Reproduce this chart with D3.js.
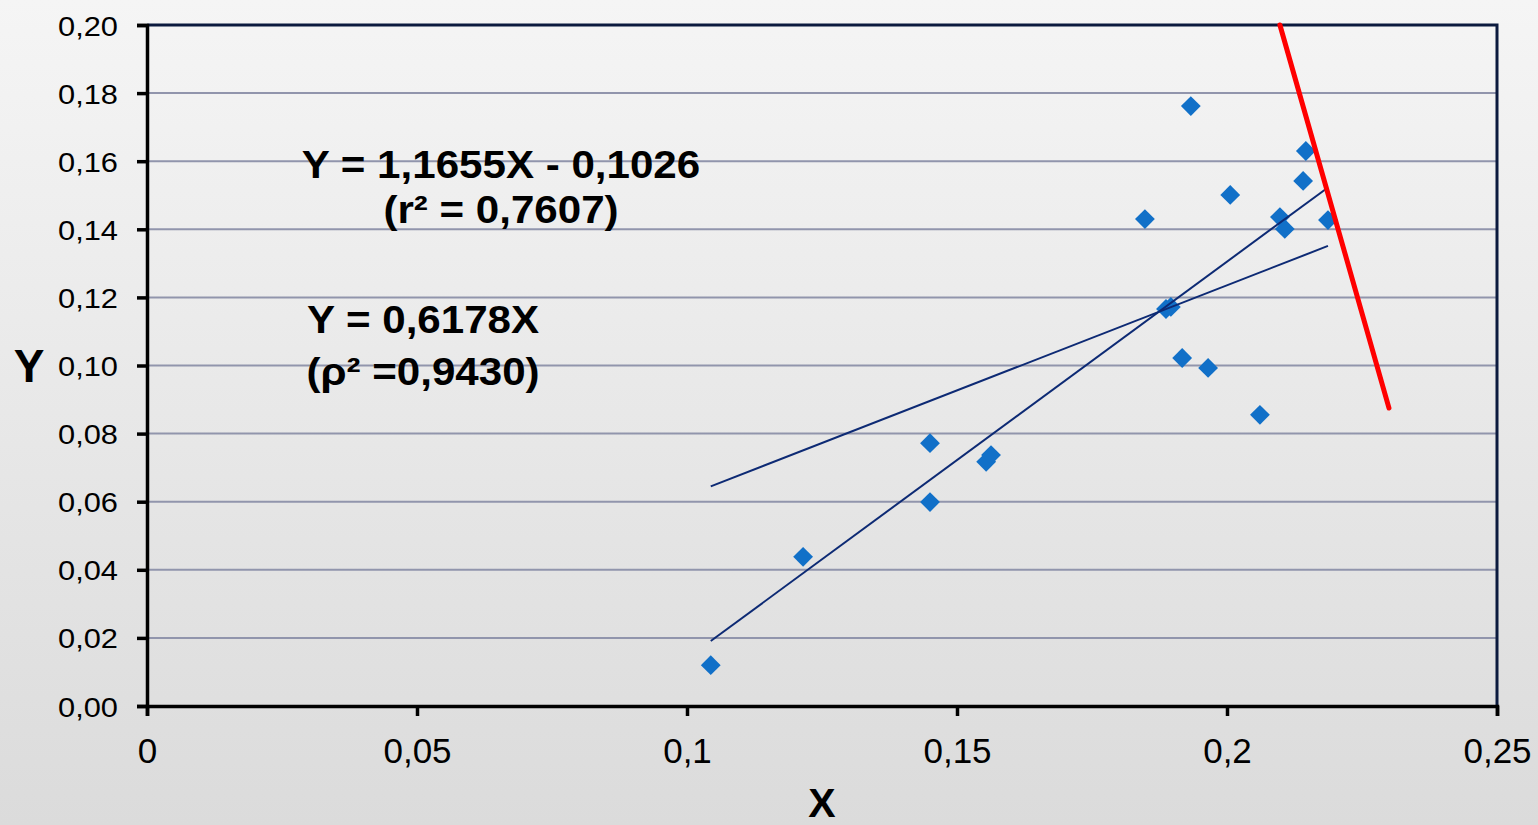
<!DOCTYPE html>
<html>
<head>
<meta charset="utf-8">
<script src="https://cdn.jsdelivr.net/npm/d3@7"></script>
<style>
  html, body { margin: 0; padding: 0; overflow: hidden; }
  body { width: 1538px; height: 825px; }
  text { font-family: "Liberation Sans", Arial, sans-serif; }
</style>
</head>
<body>
<svg id="chart" width="1538" height="825"></svg>
<script>
// Observations (X, Y)
const xValues = [0.1044, 0.1215, 0.1450, 0.1450, 0.1554, 0.1563, 0.1848, 0.1887, 0.1896, 0.1933,
                 0.1917, 0.1965, 0.2006, 0.2061, 0.2098, 0.2107, 0.2141, 0.2146, 0.2187];
const yValues = [0.0120, 0.0438, 0.0772, 0.0599, 0.0717, 0.0737, 0.1430, 0.1166, 0.1172, 0.1762,
                 0.1022, 0.0993, 0.1501, 0.0855, 0.1436, 0.1401, 0.1542, 0.1630, 0.1427];

// Fitted lines: Y = slope * X + intercept
const fitSlopes = [1.1655, 0.6178];
const fitIntercepts = [-0.1026, 0];

// Hand-drawn red boundary line (X, Y endpoints)
const boundaryX = [0.2098, 0.2300];
const boundaryY = [0.2000, 0.0875];

// Axis ticks and labels
const xTicks = [0, 0.05, 0.1, 0.15, 0.2, 0.25];
const xTickLabels = ["0", "0,05", "0,1", "0,15", "0,2", "0,25"];
const yTicks = [0, 0.02, 0.04, 0.06, 0.08, 0.10, 0.12, 0.14, 0.16, 0.18, 0.20];
const yTickLabels = ["0,00", "0,02", "0,04", "0,06", "0,08", "0,10", "0,12", "0,14", "0,16", "0,18", "0,20"];

// Equation annotations
const eq1Lines = ["Y = 1,1655X - 0,1026", "(r² = 0,7607)"];
const eq2Lines = ["Y = 0,6178X", "(ρ² =0,9430)"];

const svg = d3.select("#chart");
const W = 1538, H = 825;
const plotLeft = 147, plotRight = 1497, plotTop = 25, plotBottom = 706;

// background gradient
const defs = svg.append("defs");
const grad = defs.append("linearGradient").attr("id", "bg").attr("x1", 0).attr("y1", 0).attr("x2", 0).attr("y2", 1);
grad.append("stop").attr("offset", "0%").attr("stop-color", "#f5f5f5");
grad.append("stop").attr("offset", "100%").attr("stop-color", "#dbdbdb");
svg.append("rect").attr("width", W).attr("height", H).attr("fill", "url(#bg)");

const x = d3.scaleLinear().domain([0, 0.25]).range([plotLeft, plotRight]);
const y = d3.scaleLinear().domain([0, 0.20]).range([plotBottom, plotTop]);

// horizontal gridlines
svg.append("g").selectAll("line")
  .data(yTicks.filter(d => d > 0 && d < 0.2))
  .join("line")
  .attr("x1", plotLeft).attr("x2", plotRight)
  .attr("y1", d => y(d)).attr("y2", d => y(d))
  .attr("stroke", "#9195ac").attr("stroke-width", 2);

// top and right frame
svg.append("path")
  .attr("d", `M${plotLeft},${plotTop}H${plotRight}V${plotBottom}`)
  .attr("fill", "none").attr("stroke", "#0b1a3e").attr("stroke-width", 3);

// Y axis
const yAxis = svg.append("g").attr("transform", `translate(${plotLeft},0)`)
  .call(d3.axisLeft(y).tickValues(yTicks).tickSize(10).tickPadding(0)
    .tickFormat((d, i) => yTickLabels[i]));
yAxis.select(".domain").attr("stroke", "#000").attr("stroke-width", 3.5);
yAxis.selectAll(".tick line").attr("stroke", "#000").attr("stroke-width", 3.5);
yAxis.selectAll(".tick text")
  .attr("x", 0).attr("dy", null).attr("y", 10)
  .attr("text-anchor", "end")
  .attr("transform", "translate(-29,0) scale(1.1,1)")
  .style("font-size", "28px").style("font-family", "'Liberation Sans', Arial, sans-serif")
  .attr("fill", "#000");

// X axis
const xAxis = svg.append("g").attr("transform", `translate(0,${plotBottom})`)
  .call(d3.axisBottom(x).tickValues(xTicks).tickSize(10).tickPadding(0)
    .tickFormat((d, i) => xTickLabels[i]));
xAxis.select(".domain").attr("stroke", "#000").attr("stroke-width", 3.5);
xAxis.selectAll(".tick line").attr("stroke", "#000").attr("stroke-width", 3.5);
xAxis.selectAll(".tick text")
  .attr("y", 57).attr("dy", null)
  .attr("text-anchor", "middle")
  .style("font-size", "35px").style("font-family", "'Liberation Sans', Arial, sans-serif")
  .attr("fill", "#000");

// data points (diamonds)
const points = xValues.map((v, i) => [v, yValues[i]]);
svg.append("g").selectAll("path")
  .data(points)
  .join("path")
  .attr("transform", d => `translate(${x(d[0])},${y(d[1])}) rotate(45)`)
  .attr("d", "M-7,-7H7V7H-7Z")
  .attr("fill", "#1170c8");

// fitted lines over the observed X range
const xMin = d3.min(xValues), xMax = d3.max(xValues);
const fits = fitSlopes.map((s, i) => [[xMin, s * xMin + fitIntercepts[i]], [xMax, s * xMax + fitIntercepts[i]]]);
const line = d3.line().x(d => x(d[0])).y(d => y(d[1]));
svg.append("g").selectAll("path")
  .data(fits)
  .join("path")
  .attr("d", line)
  .attr("fill", "none").attr("stroke", "#0d2a74").attr("stroke-width", 2);

// red boundary line
svg.append("path")
  .datum(boundaryX.map((v, i) => [v, boundaryY[i]]))
  .attr("d", line)
  .attr("fill", "none").attr("stroke", "#ff0000").attr("stroke-width", 5)
  .attr("stroke-linecap", "round");

// equation annotations
function block(lines, cx, baselines) {
  lines.forEach((t, i) => {
    svg.append("text")
      .attr("transform", `translate(${cx},${baselines[i]}) scale(1.08,1)`)
      .attr("text-anchor", "middle")
      .style("font-size", "39px").style("font-weight", "bold")
      .attr("fill", "#000")
      .text(t);
  });
}
block(eq1Lines, 501, [178, 223]);
block(eq2Lines, 423, [333, 385]);

// axis titles
svg.append("text").attr("x", 29).attr("y", 382).attr("text-anchor", "middle")
  .style("font-size", "46px").style("font-weight", "bold").text("Y");
svg.append("text").attr("x", 822).attr("y", 817).attr("text-anchor", "middle")
  .style("font-size", "41px").style("font-weight", "bold").text("X");
</script>
</body>
</html>
